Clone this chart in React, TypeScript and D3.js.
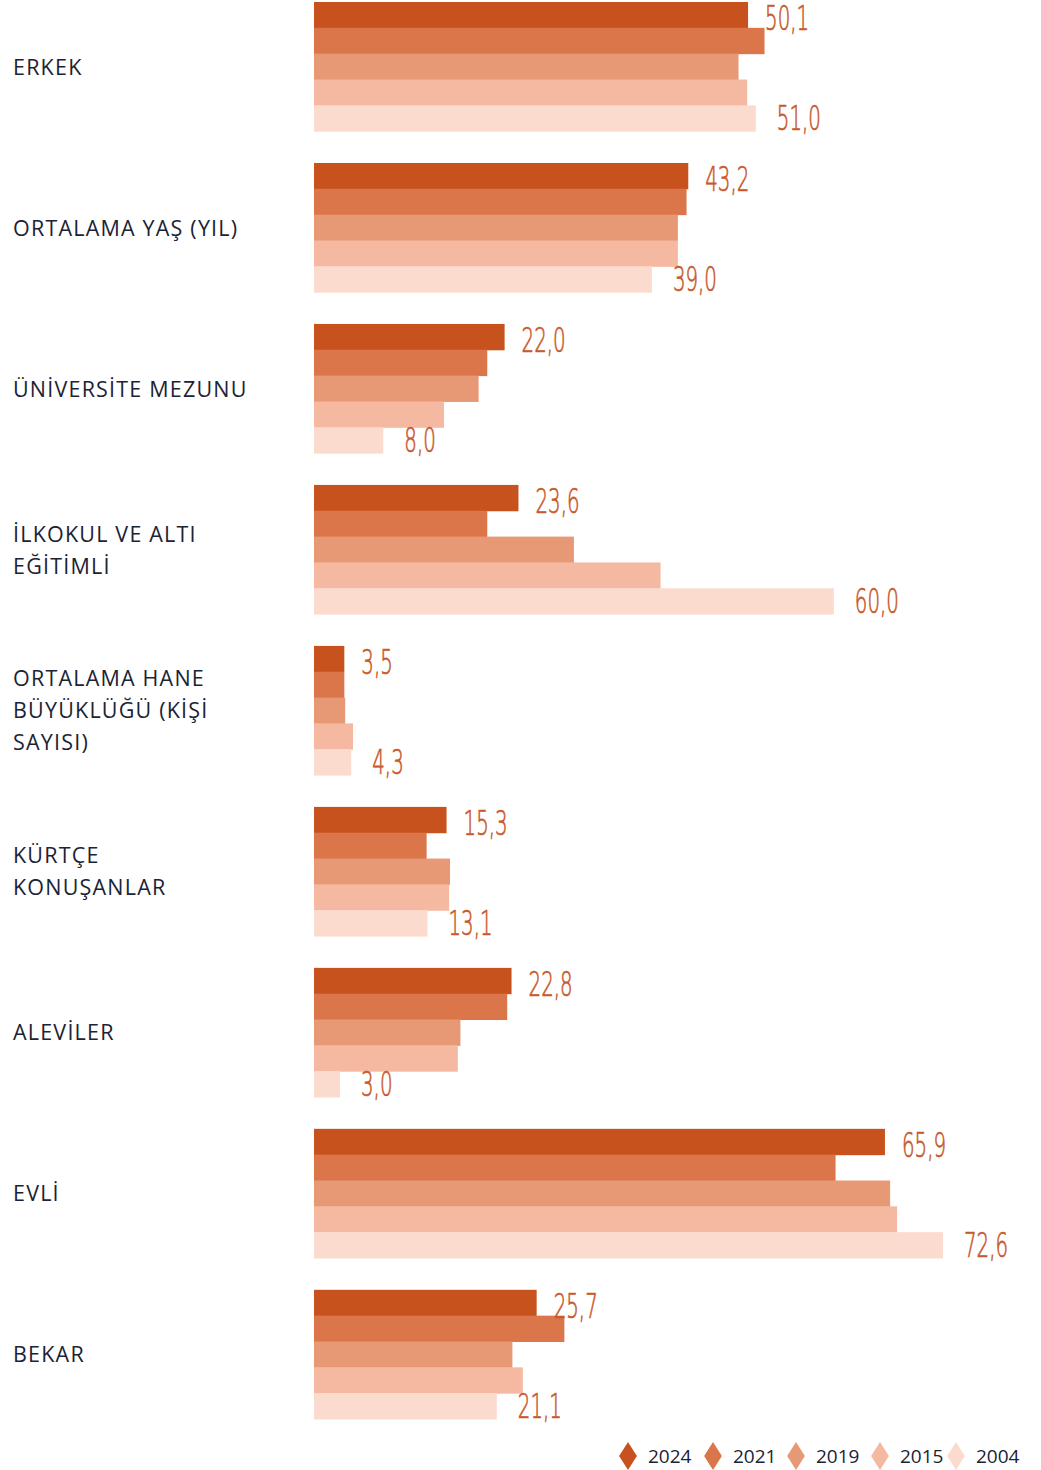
import React, { useEffect, useRef } from 'react'
import * as d3 from 'd3'

const categories = [
  ['ERKEK'],
  ['ORTALAMA YAŞ (YIL)'],
  ['ÜNİVERSİTE MEZUNU'],
  ['İLKOKUL VE ALTI', 'EĞİTİMLİ'],
  ['ORTALAMA HANE', 'BÜYÜKLÜĞÜ (KİŞİ', 'SAYISI)'],
  ['KÜRTÇE', 'KONUŞANLAR'],
  ['ALEVİLER'],
  ['EVLİ'],
  ['BEKAR'],
]
const years = ['2024', '2021', '2019', '2015', '2004']
const colors = ['#c8521e', '#db764b', '#e79874', '#f4b9a0', '#fcdbcf']

const v2024 = [50.1, 43.2, 22.0, 23.6, 3.5, 15.3, 22.8, 65.9, 25.7]
const v2021 = [52.0, 43.0, 20.0, 20.0, 3.5, 13.0, 22.3, 60.2, 28.9]
const v2019 = [49.0, 42.0, 19.0, 30.0, 3.6, 15.7, 16.9, 66.5, 22.9]
const v2015 = [50.0, 42.0, 15.0, 40.0, 4.5, 15.6, 16.6, 67.3, 24.1]
const v2004 = [51.0, 39.0, 8.0, 60.0, 4.3, 13.1, 3.0, 72.6, 21.1]
const series = [v2024, v2021, v2019, v2015, v2004]

const W = 1041
const H = 1470

export default function App() {
  const svgRef = useRef(null)

  useEffect(() => {
    const svg = d3.select(svgRef.current)
    svg.selectAll('*').remove()

    const x = d3.scaleLinear().domain([0, 72.6]).range([314, 943])
    const y = d3
      .scaleBand<number>()
      .domain(d3.range(categories.length))
      .range([2, 1419])
      .paddingInner(0.1975)
      .paddingOuter(0)
    const yi = d3.scaleBand<number>().domain(d3.range(years.length)).range([0, y.bandwidth()])

    const fmt = (v: number) => v.toFixed(1).replace('.', ',')

    const groups = svg
      .selectAll('g.grp')
      .data(categories)
      .join('g')
      .attr('class', 'grp')
      .attr('transform', (_, i) => `translate(0,${y(i)})`)

    groups.each(function (lines, ci) {
      const g = d3.select(this)
      series.forEach((vals, si) => {
        g.append('rect')
          .attr('x', x(0))
          .attr('y', yi(si)!)
          .attr('width', x(vals[ci]) - x(0))
          .attr('height', yi.bandwidth() + 0.5)
          .attr('fill', colors[si])
      })
      // value labels for first and last series
      const lab = (val: number, yy: number, dx: number) =>
        g.append('text')
          .attr('transform', `translate(${x(val) + dx},${yy}) scale(0.6,1)`)
          .attr('fill', '#c9582a')
          .attr('stroke', '#c9582a')
          .attr('stroke-width', 0.7)
          .style('font-family', '"DejaVu Sans", sans-serif')
          .style('font-weight', 200)
          .style('font-size', '33px')
          .text(fmt(val))
      lab(v2024[ci], yi(0)! + yi.bandwidth() + 2, 17)
      lab(v2004[ci], yi(4)! + yi.bandwidth() - 1, 21)

      const lh = 32
      const cy = y.bandwidth() / 2
      g.append('text')
        .attr('fill', '#1b2334')
        .style('font-family', '"Open Sans", "Noto Sans", sans-serif')
        .style('font-size', '21.5px')
        .style('letter-spacing', '1.2px')
        .selectAll('tspan')
        .data(lines)
        .join('tspan')
        .attr('x', 13)
        .attr('y', (_, li) => cy + (li - (lines.length - 1) / 2) * lh + 8)
        .text((d) => d)
    })

    // legend
    const legX = [628, 713, 796, 880, 956]
    const leg = svg.append('g').attr('transform', 'translate(0,1456)')
    years.forEach((yr, i) => {
      leg.append('path')
        .attr('d', d3.symbol(d3.symbolDiamond, 150)())
        .attr('transform', `translate(${legX[i]},0) scale(1.35,1.22)`)
        .attr('fill', colors[i])
      leg.append('text')
        .attr('x', legX[i] + 20)
        .attr('y', 7)
        .attr('fill', '#1b2334')
        .style('font-family', '"Open Sans", "Noto Sans", sans-serif')
        .style('font-size', '19px')
        .text(yr)
    })
  }, [])

  return (
    <svg
      ref={svgRef}
      width={W}
      height={H}
      style={{ position: 'absolute', left: 0, top: 0, background: '#fff' }}
    />
  )
}
